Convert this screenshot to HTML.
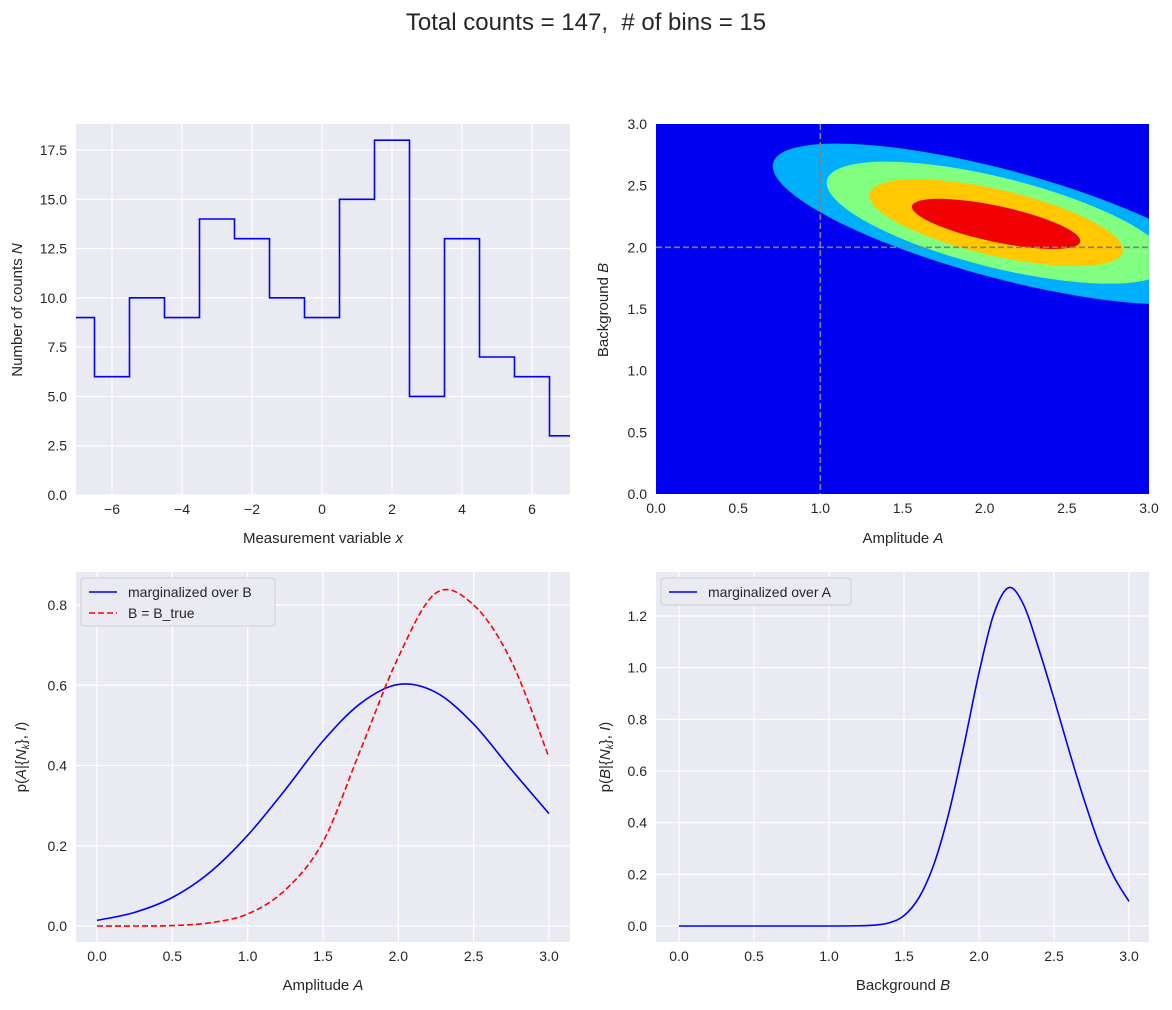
<!DOCTYPE html>
<html><head><meta charset="utf-8"><style>
body{margin:0;background:#fff;}
svg{font-family:"Liberation Sans","DejaVu Sans",sans-serif;}
.t{font-size:14px;fill:#262626;}
.l{font-size:15px;fill:#262626;}
</style></head><body>
<svg id="fig" width="1172" height="1005" xmlns="http://www.w3.org/2000/svg">
<text x="586" y="30" text-anchor="middle" font-size="24" fill="#262626">Total counts = 147,&#160; # of bins = 15</text>
</svg>
<script>
// ---- data ----
const histEdges = [-7.5,-6.5,-5.5,-4.5,-3.5,-2.5,-1.5,-0.5,0.5,1.5,2.5,3.5,4.5,5.5,6.5,7.5];
const histCounts = [9,6,10,9,14,13,10,9,15,18,5,13,7,6,3];
const p1XTicks = [-6,-4,-2,0,2,4,6];
const p1YTicks = [0,2.5,5,7.5,10,12.5,15,17.5];
const p2Ticks = [0,0.5,1,1.5,2,2.5,3];
const contourLevels = ['#00b0ff','#80ff80','#ffc800','#f00000'];
const contourCenterA = [2.10,2.08,2.07,2.07];
const contourCenterB = [2.19,2.2,2.2,2.19];
const contourSemiMajor = [236,176,130,86];
const contourSemiMinor = [54,45,33,18];
const contourAngle = [15,14,13,12];
const trueA = 1.0, trueB = 2.0;
const margAx = [0,0.25,0.5,0.75,1,1.25,1.5,1.75,2,2.25,2.5,2.75,3];
const margA = [0.014,0.034,0.071,0.134,0.226,0.340,0.461,0.555,0.602,0.582,0.503,0.390,0.280];
const condA = [0,0,0.001,0.008,0.03,0.09,0.21,0.44,0.67,0.83,0.80,0.66,0.42];
const p3XTicks = [0,0.5,1,1.5,2,2.5,3];
const p3YTicks = [0,0.2,0.4,0.6,0.8];
const margBx = [0,0.5,1,1.2,1.3,1.4,1.5,1.6,1.7,1.8,1.9,2,2.1,2.2,2.3,2.4,2.5,2.6,2.7,2.8,2.9,3];
const margB = [0,0,0,0.001,0.003,0.012,0.04,0.11,0.24,0.44,0.70,0.98,1.21,1.31,1.24,1.07,0.88,0.68,0.49,0.32,0.19,0.095];
const p4YTicks = [0,0.2,0.4,0.6,0.8,1.0,1.2];

const NS='http://www.w3.org/2000/svg';
const svg=document.getElementById('fig');
function mk(tag,attrs,parent){const e=document.createElementNS(NS,tag);for(const k in attrs)e.setAttribute(k,attrs[k]);(parent||svg).appendChild(e);return e;}
function lin(d0,d1,p0,p1){return v=>p0+(v-d0)*(p1-p0)/(d1-d0);}
function fmt(v,d){return v.toFixed(d).replace('-','−');}
function axes(name,x0,y0,x1,y1,sx,sy,xt,yt,xd,yd,grid){
  const g=mk('g',{});
  
  
  const bg=mk('rect',{x:x0,y:y0,width:x1-x0,height:y1-y0,fill:'#eaeaf2'},g);
  
  
  xt.forEach(v=>{const x=sx(v);
    if(grid){const l=mk('line',{x1:x,x2:x,y1:y0,y2:y1,stroke:'#fff','stroke-width':1.2},g);
      
      }
    const t=mk('text',{x:x,y:y1+19,'text-anchor':'middle',class:'t'},g);t.textContent=fmt(v,xd);
    
    });
  yt.forEach(v=>{const y=sy(v);
    if(grid){const l=mk('line',{x1:x0,x2:x1,y1:y,y2:y,stroke:'#fff','stroke-width':1.2},g);
      
      }
    const t=mk('text',{x:x0-9,y:y+5,'text-anchor':'end',class:'t'},g);t.textContent=fmt(v,yd);
    
    });
  return g;
}
function label(txt,x,y,rot,name){const t=mk('text',{x:x,y:y,'text-anchor':'middle',class:'l'});
  if(rot)t.setAttribute('transform','rotate(-90 '+x+' '+y+')');
  t.innerHTML=txt;
  
  }
function smooth(xs,ys,sx,sy){const P=xs.map((x,i)=>[sx(x),sy(ys[i])]);let d='M'+P[0][0]+','+P[0][1];
  for(let i=0;i<P.length-1;i++){const p0=P[Math.max(i-1,0)],p1=P[i],p2=P[i+1],p3=P[Math.min(i+2,P.length-1)];
    const c1=[p1[0]+(p2[0]-p0[0])/6,p1[1]+(p2[1]-p0[1])/6],c2=[p2[0]-(p3[0]-p1[0])/6,p2[1]-(p3[1]-p1[1])/6];
    d+=' C'+c1+' '+c2+' '+p2;}return d;}

// ---- panel 1 ----
{const x0=76,x1=570,y0=124,y1=495;const sx=lin(0,7,322,567),sy=lin(0,17.5,495,150);
 axes('histogram-axes',x0,y0,x1,y1,sx,sy,p1XTicks,p1YTicks,0,1,true);
 let d='';histCounts.forEach((c,i)=>{const a=Math.max(sx(histEdges[i]),x0),b=Math.min(sx(histEdges[i+1]),x1),y=sy(c);
   d+=(i?'L':'M')+a+','+y+' L'+b+','+y+' ';});
 const p=mk('path',{d:d,fill:'none',stroke:'#0000ff','stroke-width':1.6});
 
 
 label('Measurement variable <tspan font-style="italic">x</tspan>',323,543,false,'x-axis-title');
 label('Number of counts <tspan font-style="italic">N</tspan>',22,310,true,'y-axis-title');}

// ---- panel 2 ----
{const x0=656,x1=1149,y0=124,y1=494;const sx=lin(0,3,656,1149),sy=lin(0,3,494,124);
 axes('posterior-contour-axes',x0,y0,x1,y1,sx,sy,p2Ticks,p2Ticks,1,1,false);
 mk('clipPath',{id:'c2'});mk('rect',{x:x0,y:y0,width:x1-x0,height:y1-y0},document.getElementById('c2'));
 const g=mk('g',{'clip-path':'url(#c2)'});
 
 
 mk('rect',{x:x0,y:y0,width:x1-x0,height:y1-y0,fill:'#0000f0'},g);
 contourLevels.forEach((c,i)=>{const cx=sx(contourCenterA[i]),cy=sy(contourCenterB[i]);
   const e=mk('ellipse',{cx:cx,cy:cy,rx:contourSemiMajor[i],ry:contourSemiMinor[i],fill:c,transform:'rotate('+contourAngle[i]+' '+cx+' '+cy+')'},g);
   
   });
 const v=mk('line',{x1:sx(trueA),x2:sx(trueA),y1:y0,y2:y1,stroke:'#808080','stroke-width':1.6,'stroke-dasharray':'6,3'},g);
 
 
 const h=mk('line',{x1:x0,x2:x1,y1:sy(trueB),y2:sy(trueB),stroke:'#808080','stroke-width':1.6,'stroke-dasharray':'6,3'},g);
 
 
 label('Amplitude <tspan font-style="italic">A</tspan>',903,543,false,'x-axis-title');
 label('Background <tspan font-style="italic">B</tspan>',608,310,true,'y-axis-title');}

function legend(x,y,w,entries,name){const g=mk('g',{});
 
 
 mk('rect',{x:x,y:y,width:w,height:entries.length*21+6,fill:'#eaeaf2',stroke:'#d0d0d0',rx:3},g);
 entries.forEach((en,i)=>{const yy=y+14+i*21;
   mk('line',{x1:x+8,x2:x+36,y1:yy,y2:yy,stroke:en[1],'stroke-width':1.6,'stroke-dasharray':en[2]||'none'},g);
   const t=mk('text',{x:x+47,y:yy+5,class:'t'},g);t.textContent=en[0];
   
   });}

// ---- panel 3 ----
{const x0=76,x1=570,y0=572,y1=942;const sx=lin(0,3,97,549),sy=lin(0,0.8,926,605);
 axes('amplitude-marginal-axes',x0,y0,x1,y1,sx,sy,p3XTicks,p3YTicks,1,1,true);
 const a=mk('path',{d:smooth(margAx,margA,sx,sy),fill:'none',stroke:'#0000ff','stroke-width':1.6});
 
 
 const b=mk('path',{d:smooth(margAx,condA,sx,sy),fill:'none',stroke:'#ff0000','stroke-width':1.6,'stroke-dasharray':'6,3'});
 
 
 legend(81,578,194,[['marginalized over B','#0000ff'],['B = B_true','#ff0000','6,3']],'legend');
 label('Amplitude <tspan font-style="italic">A</tspan>',323,990,false,'x-axis-title');
 label('p(<tspan font-style="italic">A</tspan>|{<tspan font-style="italic">N</tspan><tspan font-size="10" dy="3" font-style="italic">k</tspan><tspan dy="-3">}, </tspan><tspan font-style="italic">I</tspan>)',26,757,true,'y-axis-title');}

// ---- panel 4 ----
{const x0=656,x1=1149,y0=572,y1=942;const sx=lin(0,3,679,1129),sy=lin(0,1.2,926,616);
 axes('background-marginal-axes',x0,y0,x1,y1,sx,sy,p3XTicks,p4YTicks,1,1,true);
 const a=mk('path',{d:smooth(margBx,margB,sx,sy),fill:'none',stroke:'#0000ff','stroke-width':1.6});
 
 
 legend(661,578,190,[['marginalized over A','#0000ff']],'legend');
 label('Background <tspan font-style="italic">B</tspan>',903,990,false,'x-axis-title');
 label('p(<tspan font-style="italic">B</tspan>|{<tspan font-style="italic">N</tspan><tspan font-size="10" dy="3" font-style="italic">k</tspan><tspan dy="-3">}, </tspan><tspan font-style="italic">I</tspan>)',610,757,true,'y-axis-title');}
</script>
</body></html>
